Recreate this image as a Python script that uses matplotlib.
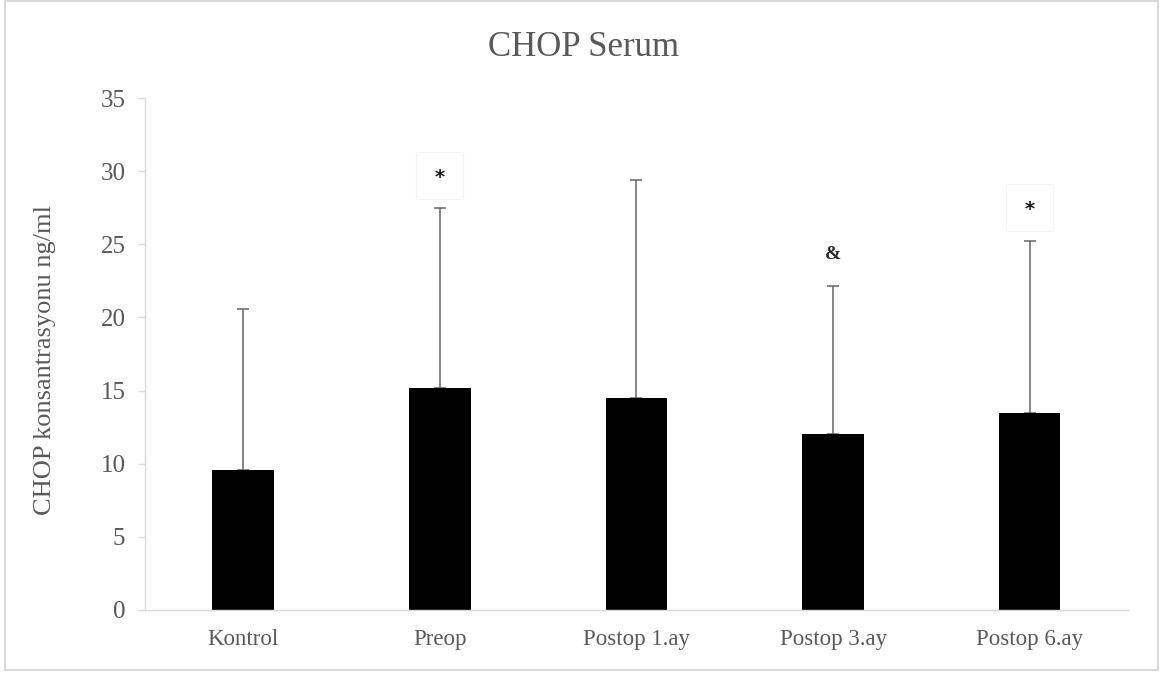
import matplotlib
matplotlib.use("Agg")
import matplotlib.pyplot as plt
from matplotlib.patches import Rectangle

categories = ["Kontrol", "Preop", "Postop 1.ay", "Postop 3.ay", "Postop 6.ay"]
means = [9.6, 15.2, 14.5, 12.05, 13.45]
upper_sd = [11.0, 12.25, 14.9, 10.1, 11.8]
marks = ["", "*", "", "&", "*"]
mark_y = [None, 29.7, None, 24.3, 27.5]
yticks = [0, 5, 10, 15, 20, 25, 30, 35]

plt.rcParams['font.family'] = ['Liberation Serif', 'DejaVu Serif']
txt = "#595959"
axc = "#D9D9D9"

fig = plt.figure(figsize=(11.67, 6.77), dpi=100)
ax = fig.add_axes([0.1242, 0.0990, 0.8424, 0.7562])

x = list(range(len(categories)))
ax.bar(x, means, width=0.313, color="black", zorder=2)
ax.errorbar(x, means, yerr=[[0]*len(means), upper_sd], fmt="none",
            ecolor="#666666", elinewidth=1.1, capsize=4.3, capthick=1.1, zorder=1)

for xi, m, my in zip(x, marks, mark_y):
    if m:
        if m == "*":
            ax.add_patch(Rectangle((xi - 0.12, my - 1.6), 0.24, 3.2, fill=False,
                                   edgecolor="#F4F4F4", linewidth=0.8, zorder=0))
            ax.text(xi, my - 0.15, m, ha="center", va="center", fontsize=14,
                    color="#1a1a1a", family=['DejaVu Sans'], fontweight="bold")
        else:
            ax.text(xi, my, m, ha="center", va="center", fontsize=14,
                    color="#262626", fontweight="bold")

ax.set_xlim(-0.5, len(categories) - 0.5)
ax.set_ylim(0, 35)
ax.set_yticks(yticks)
ax.set_xticks(x)
ax.set_xticklabels(categories, fontsize=16.5, color=txt)
ax.tick_params(axis="y", labelsize=18, colors=txt, length=5, color=axc, width=1, pad=9)
ax.tick_params(axis="x", length=0, pad=14)

for s in ["top", "right"]:
    ax.spines[s].set_visible(False)
ax.spines["left"].set_color(axc)
ax.spines["bottom"].set_color(axc)
ax.spines["left"].set_linewidth(1)
ax.spines["bottom"].set_linewidth(1)

fig.text(45/1167, 1 - 360/677, "CHOP konsantrasyonu ng/ml", rotation=90,
         ha="center", va="center", fontsize=19, color=txt)
fig.text(0.5, 1 - 47/677, "CHOP Serum", ha="center", va="center", fontsize=25, color=txt)

fig.patches.append(Rectangle((5/1167, 7/677), 1153/1167, 669/677, transform=fig.transFigure,
                             fill=False, edgecolor=axc, linewidth=1.5))

fig.savefig("out.png", dpi=100)
